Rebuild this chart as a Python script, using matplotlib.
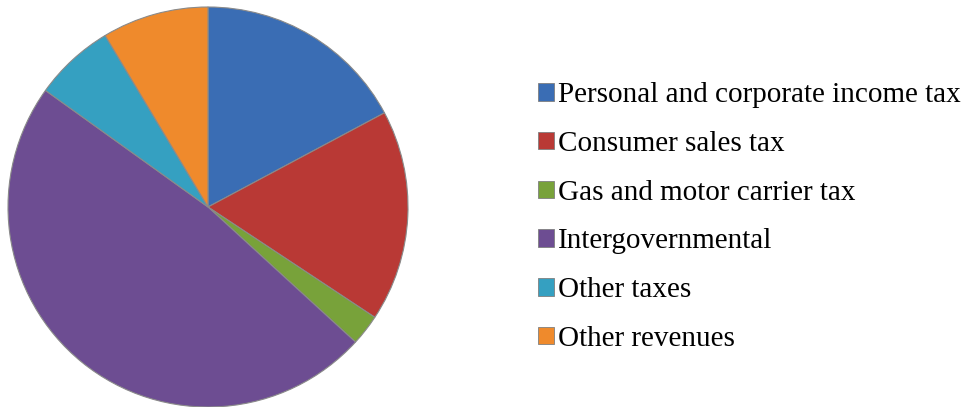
import matplotlib
matplotlib.use("Agg")
import matplotlib.pyplot as plt
from matplotlib.patches import Patch

# revenue shares (percent)
labels = [
    "Personal and corporate income tax",
    "Consumer sales tax",
    "Gas and motor carrier tax",
    "Intergovernmental",
    "Other taxes",
    "Other revenues",
]
shares = [17.2, 17.1, 2.5, 48.1, 6.5, 8.6]
colors = ["#3a6db4", "#b93935", "#78a23a", "#6d4d92", "#35a0c1", "#ef8a2c"]

W, H = 965, 407
fig = plt.figure(figsize=(W / 100, H / 100), dpi=100)
fig.patch.set_facecolor("white")

# pie centred at (208, 207) px, radius ~200 px
ax = fig.add_axes([8 / W, 0 / H, 400 / W, 400 / H])
ax.pie(shares, colors=colors, startangle=90, counterclock=False, radius=1.0,
       wedgeprops=dict(edgecolor="#8a8a8a", linewidth=0.8))
ax.set_xlim(-1.0, 1.0)
ax.set_ylim(-1.0, 1.0)
ax.set_aspect("equal")
ax.axis("off")

handles = [Patch(facecolor=c, edgecolor="#7f7f7f", linewidth=0.6) for c in colors]
fig.legend(handles, labels, loc="center left",
           bbox_to_anchor=(538 / W, 1 - 217 / H),
           frameon=False, prop=dict(family="Liberation Serif", size=21),
           handlelength=0.55, handleheight=0.55, handletextpad=0.12,
           labelspacing=0.78, borderpad=0, borderaxespad=0)

fig.savefig("out.png", dpi=100)
